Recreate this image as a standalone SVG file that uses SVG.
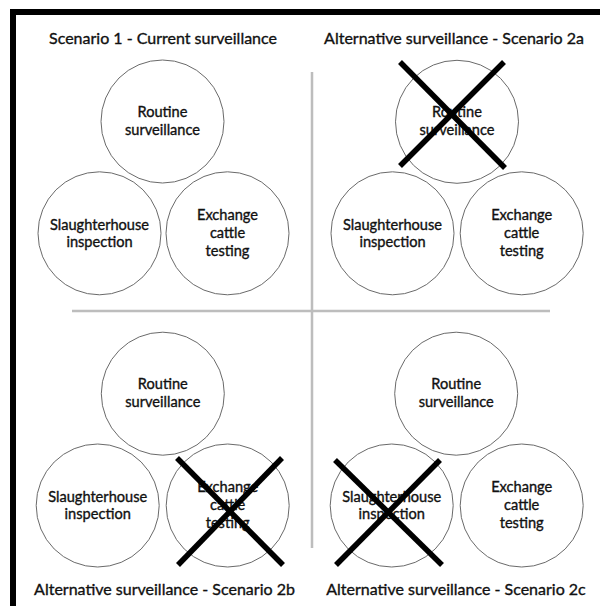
<svg xmlns="http://www.w3.org/2000/svg" width="600" height="606" viewBox="0 0 600 606">
<style>
.frame{stroke:#000;stroke-width:6;fill:none}
.div{stroke:#bdbdbd;stroke-width:2.5;fill:none}
.node circle{fill:#fff;stroke:#6a6a6a;stroke-width:1}
.node text{font-family:Lato,"Liberation Sans",sans-serif;font-size:14.6px;fill:#111;stroke:#111;stroke-width:0.35;text-anchor:middle}
.title{font-family:Lato,"Liberation Sans",sans-serif;font-size:16px;fill:#111;stroke:#111;stroke-width:0.35;text-anchor:middle}
.x{stroke:#000;stroke-width:5.5;stroke-linecap:butt}
</style>
<rect width="600" height="606" fill="#fff"/>
<g id="frame">
<path class="frame" d="M13 606 V12 H600"/>
</g>
<g id="dividers">
<line class="div" x1="312" y1="72" x2="312" y2="548"/>
<line class="div" x1="72" y1="311" x2="550" y2="311"/>
</g>
<g id="titles">
<text class="title" x="163" y="44">Scenario 1 - Current surveillance</text>
<text class="title" x="454" y="44">Alternative surveillance - Scenario 2a</text>
<text class="title" x="164.5" y="595">Alternative surveillance - Scenario 2b</text>
<text class="title" x="456" y="595">Alternative surveillance - Scenario 2c</text>
</g>
<!-- Scenario 1 -->
<g id="s1-routine" class="node"><circle cx="162.5" cy="121.5" r="61.5"/><text x="162.5" y="117">Routine</text><text x="162.5" y="135">surveillance</text></g>
<g id="s1-slaughter" class="node"><circle cx="99.5" cy="233.3" r="61.5"/><text x="99.5" y="229.5">Slaughterhouse</text><text x="99.5" y="247">inspection</text></g>
<g id="s1-exchange" class="node"><circle cx="227.5" cy="233.3" r="61.5"/><text x="227.5" y="220">Exchange</text><text x="227.5" y="238">cattle</text><text x="227.5" y="256">testing</text></g>
<!-- Scenario 2a -->
<g id="s2a-routine" class="node"><circle cx="457" cy="121.8" r="61.5"/><text x="457" y="117">Routine</text><text x="457" y="135">surveillance</text></g>
<g id="s2a-slaughter" class="node"><circle cx="392.5" cy="233.3" r="61.5"/><text x="392.5" y="229.5">Slaughterhouse</text><text x="392.5" y="247">inspection</text></g>
<g id="s2a-exchange" class="node"><circle cx="521.7" cy="233.3" r="61.5"/><text x="521.7" y="220">Exchange</text><text x="521.7" y="238">cattle</text><text x="521.7" y="256">testing</text></g>
<!-- Scenario 2b -->
<g id="s2b-routine" class="node"><circle cx="162.8" cy="393.7" r="61.5"/><text x="162.8" y="389">Routine</text><text x="162.8" y="407">surveillance</text></g>
<g id="s2b-slaughter" class="node"><circle cx="97.7" cy="505.5" r="61.5"/><text x="97.7" y="501.5">Slaughterhouse</text><text x="97.7" y="519">inspection</text></g>
<g id="s2b-exchange" class="node"><circle cx="227.7" cy="505.5" r="61.5"/><text x="227.7" y="492">Exchange</text><text x="227.7" y="510">cattle</text><text x="227.7" y="528">testing</text></g>
<!-- Scenario 2c -->
<g id="s2c-routine" class="node"><circle cx="456.2" cy="393.7" r="61.5"/><text x="456.2" y="389">Routine</text><text x="456.2" y="407">surveillance</text></g>
<g id="s2c-slaughter" class="node"><circle cx="391.7" cy="505.5" r="61.5"/><text x="391.7" y="501.5">Slaughterhouse</text><text x="391.7" y="519">inspection</text></g>
<g id="s2c-exchange" class="node"><circle cx="521.7" cy="505.5" r="61.5"/><text x="521.7" y="492">Exchange</text><text x="521.7" y="510">cattle</text><text x="521.7" y="528">testing</text></g>
<g id="crosses">
<line class="x" x1="400" y1="62" x2="505" y2="168"/>
<line class="x" x1="504" y1="62" x2="400" y2="166"/>
<line class="x" x1="177" y1="458" x2="283" y2="565"/>
<line class="x" x1="282" y1="458" x2="178" y2="565"/>
<line class="x" x1="335" y1="460" x2="442" y2="565"/>
<line class="x" x1="440" y1="460" x2="336" y2="565"/>
</g>
</svg>
